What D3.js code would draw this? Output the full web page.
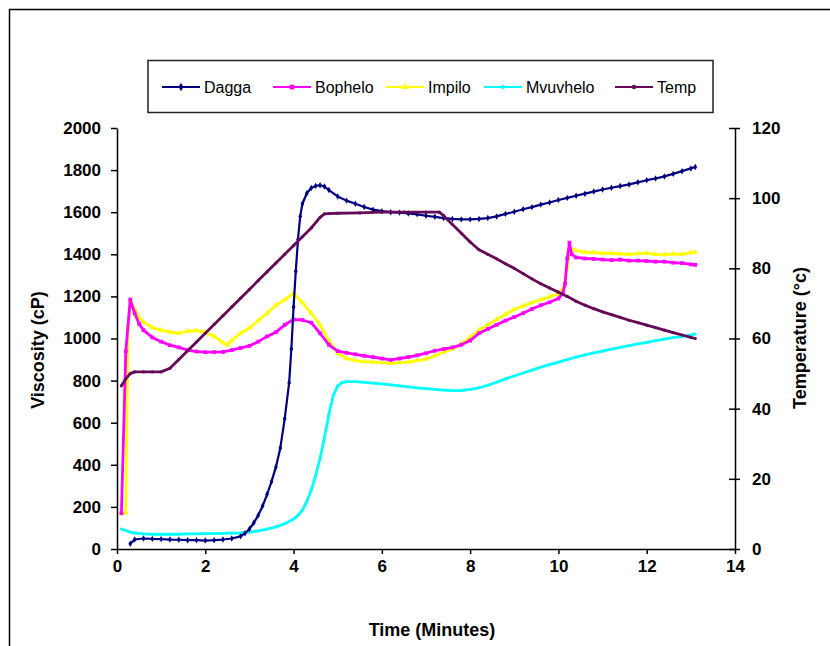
<!DOCTYPE html>
<html>
<head>
<meta charset="utf-8">
<script src="https://cdn.jsdelivr.net/npm/d3@7"></script>
<style>
  html, body { margin: 0; padding: 0; background: #fff; }
  svg { display: block; font-family: Arial, "Liberation Sans", sans-serif; }
</style>
</head>
<body>
<svg id="chart" width="830" height="646"></svg>
<script>
// series: time (minutes) and value
const daggaMin = [0.3, 0.4, 0.6, 0.8, 1.0, 1.2, 1.4, 1.6, 1.8, 2.0, 2.2, 2.4, 2.6, 2.8, 2.9, 3.0, 3.1, 3.2, 3.3, 3.4, 3.5, 3.6, 3.7, 3.8, 3.9, 3.95, 4.0, 4.05, 4.1, 4.15, 4.2, 4.3, 4.4, 4.5, 4.6, 4.7, 4.8, 5.0, 5.2, 5.4, 5.6, 5.8, 6.0, 6.2, 6.4, 6.6, 6.8, 7.0, 7.2, 7.4, 7.6, 7.8, 8.0, 8.2, 8.4, 8.6, 8.8, 9.0, 9.2, 9.4, 9.6, 9.8, 10.0, 10.2, 10.4, 10.6, 10.8, 11.0, 11.2, 11.4, 11.6, 11.8, 12.0, 12.2, 12.4, 12.6, 12.8, 13.0, 13.1];
const daggaCp = [25, 45, 50, 48, 47, 45, 44, 42, 42, 40, 42, 45, 50, 60, 75, 95, 125, 160, 205, 260, 320, 390, 480, 620, 790, 950, 1150, 1320, 1470, 1580, 1640, 1690, 1715, 1725, 1728, 1722, 1705, 1675, 1655, 1640, 1625, 1612, 1605, 1600, 1598, 1594, 1590, 1583, 1578, 1572, 1568, 1566, 1566, 1568, 1572, 1580, 1592, 1602, 1614, 1624, 1636, 1646, 1658, 1668, 1678, 1688, 1698, 1708, 1716, 1724, 1732, 1742, 1752, 1760, 1770, 1782, 1795, 1808, 1815];

const bopheloMin = [0.1, 0.2, 0.3, 0.4, 0.5, 0.6, 0.8, 1.0, 1.2, 1.4, 1.6, 1.8, 2.0, 2.2, 2.4, 2.6, 2.8, 3.0, 3.2, 3.4, 3.6, 3.8, 4.0, 4.2, 4.4, 4.6, 4.8, 5.0, 5.2, 5.4, 5.6, 5.8, 6.0, 6.2, 6.4, 6.6, 6.8, 7.0, 7.2, 7.4, 7.6, 7.8, 8.0, 8.2, 8.4, 8.6, 8.8, 9.0, 9.2, 9.4, 9.6, 9.8, 10.0, 10.1, 10.15, 10.2, 10.25, 10.3, 10.4, 10.6, 10.8, 11.0, 11.2, 11.4, 11.6, 11.8, 12.0, 12.2, 12.4, 12.6, 12.8, 13.0, 13.1];
const bopheloCp = [170, 940, 1185, 1120, 1070, 1040, 1005, 985, 968, 958, 945, 938, 935, 935, 936, 945, 955, 965, 985, 1010, 1030, 1065, 1090, 1088, 1075, 1025, 970, 940, 932, 925, 918, 912, 905, 898, 905, 912, 920, 930, 942, 950, 958, 970, 990, 1025, 1045, 1065, 1085, 1102, 1120, 1140, 1158, 1172, 1190, 1215, 1260, 1380, 1455, 1400, 1385, 1380, 1378, 1375, 1372, 1375, 1370, 1370, 1368, 1365, 1365, 1360, 1358, 1352, 1350];

const impiloMin = [0.1, 0.2, 0.25, 0.3, 0.4, 0.5, 0.6, 0.8, 1.0, 1.2, 1.4, 1.6, 1.8, 2.0, 2.2, 2.4, 2.5, 2.6, 2.8, 3.0, 3.2, 3.4, 3.6, 3.8, 4.0, 4.2, 4.4, 4.6, 4.8, 5.0, 5.2, 5.4, 5.6, 5.8, 6.0, 6.2, 6.4, 6.6, 6.8, 7.0, 7.2, 7.4, 7.6, 7.8, 8.0, 8.2, 8.4, 8.6, 8.8, 9.0, 9.2, 9.4, 9.6, 9.8, 10.0, 10.1, 10.15, 10.2, 10.25, 10.3, 10.4, 10.6, 10.8, 11.0, 11.2, 11.4, 11.6, 11.8, 12.0, 12.2, 12.4, 12.6, 12.8, 13.0, 13.1];
const impiloCp = [170, 172, 1050, 1180, 1140, 1100, 1078, 1052, 1040, 1030, 1025, 1035, 1038, 1030, 1010, 980, 970, 990, 1025, 1050, 1085, 1120, 1158, 1185, 1215, 1170, 1120, 1065, 990, 930, 905, 895, 890, 888, 885, 882, 885, 888, 895, 902, 918, 935, 950, 975, 1005, 1040, 1065, 1090, 1115, 1138, 1155, 1170, 1185, 1198, 1212, 1235, 1270, 1340, 1420, 1425, 1418, 1410, 1408, 1405, 1405, 1402, 1400, 1403, 1405, 1400, 1398, 1402, 1400, 1408, 1410];

const mvuvheloMin = [0.1, 0.2, 0.3, 0.4, 0.6, 0.8, 1.0, 1.2, 1.4, 1.6, 1.8, 2.0, 2.2, 2.4, 2.6, 2.8, 3.0, 3.2, 3.4, 3.6, 3.8, 4.0, 4.1, 4.2, 4.3, 4.4, 4.5, 4.6, 4.7, 4.8, 4.9, 5.0, 5.1, 5.2, 5.4, 5.6, 5.8, 6.0, 6.2, 6.4, 6.6, 6.8, 7.0, 7.2, 7.4, 7.6, 7.8, 8.0, 8.2, 8.4, 8.6, 8.8, 9.0, 9.2, 9.4, 9.6, 9.8, 10.0, 10.2, 10.4, 10.6, 10.8, 11.0, 11.2, 11.4, 11.6, 11.8, 12.0, 12.2, 12.4, 12.6, 12.8, 13.0, 13.1];
const mvuvheloCp = [95, 88, 80, 76, 72, 70, 70, 70, 70, 72, 72, 73, 73, 74, 75, 76, 80, 86, 94, 105, 120, 142, 160, 185, 225, 280, 350, 430, 530, 640, 730, 775, 790, 795, 795, 792, 788, 784, 780, 775, 770, 765, 762, 758, 755, 752, 753, 758, 766, 778, 792, 808, 822, 836, 850, 864, 876, 888, 900, 912, 922, 932, 940, 950, 958, 966, 974, 982, 990, 997, 1004, 1010, 1016, 1022];

const tempMin = [0.1, 0.2, 0.3, 0.4, 0.6, 0.8, 1.0, 1.2, 1.4, 1.6, 1.8, 2.0, 2.2, 2.4, 2.6, 2.8, 3.0, 3.2, 3.4, 3.6, 3.8, 4.0, 4.2, 4.4, 4.6, 4.7, 4.8, 5.0, 5.5, 6.0, 6.5, 7.0, 7.3, 7.4, 7.6, 7.8, 8.0, 8.2, 8.4, 8.6, 8.8, 9.0, 9.2, 9.4, 9.6, 9.8, 10.0, 10.2, 10.4, 10.6, 10.8, 11.0, 11.2, 11.4, 11.6, 11.8, 12.0, 12.2, 12.4, 12.6, 12.8, 13.0, 13.1];
const tempC = [46.5, 48.5, 50, 50.5, 50.5, 50.5, 50.5, 51.5, 54, 56.5, 59, 61.5, 64, 66.5, 69, 71.5, 74, 76.5, 79, 81.5, 84, 86.5, 89, 91.5, 94.5, 95.5, 95.6, 95.7, 95.8, 96, 96, 96, 96, 95, 92.5, 90, 87.5, 85.3, 84, 82.7, 81.3, 80, 78.5, 77, 75.6, 74.4, 73.2, 72, 70.6, 69.5, 68.5, 67.6, 66.8, 66, 65.2, 64.5, 63.8, 63.1, 62.4, 61.7, 61, 60.3, 60];

const seriesNames = ['Dagga', 'Bophelo', 'Impilo', 'Mvuvhelo', 'Temp'];
const xTicks = [0, 2, 4, 6, 8, 10, 12, 14];
const yTicks = [0, 200, 400, 600, 800, 1000, 1200, 1400, 1600, 1800, 2000];
const y2Ticks = [0, 20, 40, 60, 80, 100, 120];

const svg = d3.select('#chart');

// outer frame, runs off the right and bottom edge
svg.append('rect')
    .attr('x', 9.5).attr('y', 9.5)
    .attr('width', 900).attr('height', 900)
    .attr('fill', 'none')
    .attr('stroke', '#000')
    .attr('stroke-width', 1.5);

const x = d3.scaleLinear().domain([0, 14]).range([117, 735]);
const y = d3.scaleLinear().domain([0, 2000]).range([549, 128]);
const y2 = d3.scaleLinear().domain([0, 120]).range([549, 128]);

const series = [
  { name: 'Mvuvhelo', t: mvuvheloMin, v: mvuvheloCp, scale: y, color: '#00ffff', symbol: d3.symbolCircle, size: 6, width: 2.8 },
  { name: 'Impilo', t: impiloMin, v: impiloCp, scale: y, color: '#ffff00', symbol: d3.symbolTriangle, size: 14, width: 2.8 },
  { name: 'Bophelo', t: bopheloMin, v: bopheloCp, scale: y, color: '#ff00ff', symbol: d3.symbolSquare, size: 14, width: 2.8 },
  { name: 'Dagga', t: daggaMin, v: daggaCp, scale: y, color: '#000080', symbol: d3.symbolDiamond, size: 12, width: 2.2 },
  { name: 'Temp', t: tempMin, v: tempC, scale: y2, color: '#640a58', symbol: d3.symbolCircle, size: 8, width: 2.8 }
];

const plot = svg.append('g');

series.forEach(s => {
  const pts = s.t.map((t, i) => [t, s.v[i]]);
  const line = d3.line()
      .x(d => x(d[0]))
      .y(d => s.scale(d[1]));

  plot.append('path')
      .datum(pts)
      .attr('d', line)
      .attr('fill', 'none')
      .attr('stroke', s.color)
      .attr('stroke-width', s.width)
      .attr('stroke-linejoin', 'round');

  const sym = d3.symbol().type(s.symbol).size(s.size);
  plot.append('g').selectAll('path')
      .data(pts)
      .join('path')
      .attr('d', sym)
      .attr('transform', d => `translate(${x(d[0])},${s.scale(d[1])})`)
      .attr('fill', s.color);
});

// axes
const tickFont = g => g.selectAll('text')
    .attr('font-size', 17)
    .attr('font-weight', 'bold')
    .attr('fill', '#000');

const xAxis = svg.append('g')
    .attr('transform', 'translate(0,549)')
    .call(d3.axisBottom(x).tickValues(xTicks).tickFormat(d3.format('d'))
        .tickSize(5).tickPadding(6).tickSizeOuter(0));
xAxis.call(tickFont);

const yAxis = svg.append('g')
    .attr('transform', 'translate(117,0)')
    .call(d3.axisLeft(y).tickValues(yTicks).tickFormat(d3.format('d'))
        .tickSize(6).tickPadding(10).tickSizeOuter(0));
yAxis.call(tickFont);

const y2Axis = svg.append('g')
    .attr('transform', 'translate(735,0)')
    .call(d3.axisRight(y2).tickValues(y2Ticks).tickFormat(d3.format('d'))
        .tickSize(5).tickPadding(12).tickSizeOuter(0));
y2Axis.call(tickFont);
y2Axis.selectAll('.tick line').attr('x1', -6);

svg.selectAll('.domain, .tick line')
    .attr('stroke', '#000')
    .attr('stroke-width', 1.5);

// axis titles
svg.append('text')
    .attr('transform', 'translate(44,350) rotate(-90)')
    .attr('text-anchor', 'middle')
    .attr('font-size', 18)
    .attr('font-weight', 'bold')
    .text('Viscosity (cP)');

svg.append('text')
    .attr('transform', 'translate(806,338) rotate(-90)')
    .attr('text-anchor', 'middle')
    .attr('font-size', 18)
    .attr('font-weight', 'bold')
    .text('Temperature (°c)');

svg.append('text')
    .attr('x', 432).attr('y', 636)
    .attr('text-anchor', 'middle')
    .attr('font-size', 18)
    .attr('font-weight', 'bold')
    .text('Time (Minutes)');

// legend
const legend = svg.append('g');
legend.append('rect')
    .attr('x', 148).attr('y', 60.5)
    .attr('width', 565).attr('height', 52)
    .attr('fill', '#fff')
    .attr('stroke', '#222')
    .attr('stroke-width', 1.5);

const legendX = [162, 273, 386, 484, 615];
seriesNames.forEach((name, i) => {
  const s = series.find(d => d.name === name);
  const g = legend.append('g').attr('transform', `translate(${legendX[i]},87)`);
  g.append('line')
      .attr('x1', 0).attr('x2', 38)
      .attr('stroke', s.color)
      .attr('stroke-width', 2);
  g.append('path')
      .attr('d', d3.symbol().type(s.symbol).size(s.size + 8))
      .attr('transform', 'translate(19,0)')
      .attr('fill', s.color);
  g.append('text')
      .attr('x', 42).attr('y', 6)
      .attr('font-size', 16)
      .text(name);
});
</script>
</body>
</html>
